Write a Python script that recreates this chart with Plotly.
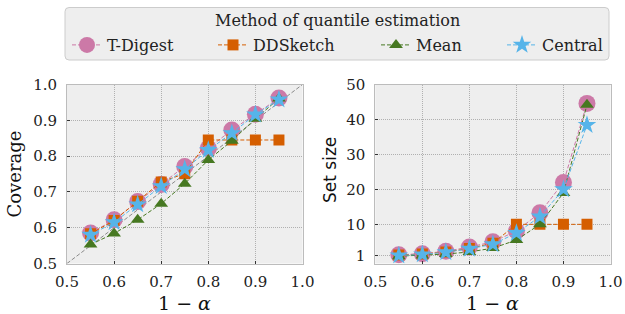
import plotly.graph_objects as go
from plotly.subplots import make_subplots

alpha_levels = [0.55, 0.60, 0.65, 0.70, 0.75, 0.80, 0.85, 0.90, 0.95]
methods = ["T-Digest", "DDSketch", "Mean", "Central"]

coverage = {
    "T-Digest": [0.585, 0.622, 0.673, 0.721, 0.771, 0.822, 0.873, 0.917, 0.962],
    "DDSketch": [0.583, 0.620, 0.674, 0.728, 0.751, 0.845, 0.845, 0.845, 0.845],
    "Mean":     [0.553, 0.584, 0.622, 0.667, 0.723, 0.789, 0.843, 0.904, 0.961],
    "Central":  [0.580, 0.615, 0.665, 0.716, 0.763, 0.817, 0.864, 0.916, 0.958],
}
set_size = {
    "T-Digest": [1.3, 1.6, 2.3, 3.5, 5.0, 8.1, 13.3, 22.0, 44.6],
    "DDSketch": [1.2, 1.5, 2.1, 3.1, 4.6, 10.0, 10.0, 10.0, 10.0],
    "Mean":     [0.9, 1.1, 1.5, 2.1, 3.2, 5.5, 10.0, 19.0, 44.2],
    "Central":  [1.1, 1.4, 2.0, 3.0, 4.3, 7.5, 12.2, 20.0, 38.4],
}
x_ticks = [0.5, 0.6, 0.7, 0.8, 0.9, 1.0]
cov_ticks = [0.5, 0.6, 0.7, 0.8, 0.9, 1.0]
size_ticks = [1, 10, 20, 30, 40, 50]

colors = {"T-Digest": "#CC79A7", "DDSketch": "#D55E00", "Mean": "#467821", "Central": "#56B4E9"}
symbols = {"T-Digest": "circle", "DDSketch": "square", "Mean": "triangle-up", "Central": "star"}
sizes = {"T-Digest": 17, "DDSketch": 11, "Mean": 12, "Central": 14}

SERIF = "DejaVu Serif, serif"
SANS = "DejaVu Sans, sans-serif"
TXT = "#222222"

W, H = 625, 314


def px(x):
    return x / W


def py(y):
    return 1 - y / H


fig = make_subplots(rows=1, cols=2)

fig.add_trace(go.Scatter(x=[0.5, 1.0], y=[0.5, 1.0], mode="lines",
                         line=dict(color="#8a8a8a", width=1, dash="4px,2px"),
                         showlegend=False, hoverinfo="skip"), row=1, col=1)

legend_names = ["legend", "legend2", "legend3", "legend4"]
for i, m in enumerate(methods):
    for col, data in ((1, coverage), (2, set_size)):
        fig.add_trace(go.Scatter(
            x=alpha_levels, y=data[m], mode="lines+markers", name=m,
            legendgroup=m, showlegend=(col == 1), legend=legend_names[i],
            line=dict(color=colors[m], width=1, dash="4px,2px"),
            marker=dict(symbol=symbols[m], size=sizes[m], color=colors[m],
                        line=dict(width=0)),
        ), row=1, col=col)

axis_common = dict(showline=True, linecolor="#bcbcbc", linewidth=1, mirror=True,
                   showgrid=True, gridcolor="#b0b0b0", griddash="1px,1px", gridwidth=1,
                   zeroline=False, ticks="inside", ticklen=3, tickcolor="#333333",
                   automargin=False,
                   tickfont=dict(family=SERIF, size=15, color=TXT))

fig.update_xaxes(range=[0.5, 1.0], tickvals=x_ticks, ticktext=[f"{v:.1f}" for v in x_ticks],
                 ticklabelstandoff=4, **axis_common)
fig.update_yaxes(range=[0.5, 1.0], tickvals=cov_ticks, ticktext=[f"{v:.1f}" for v in cov_ticks],
                 ticklabelstandoff=6, row=1, col=1, **axis_common)
fig.update_yaxes(range=[-1.2, 50], tickvals=size_ticks, ticktext=[str(v) for v in size_ticks],
                 ticklabelstandoff=6, row=1, col=2, **axis_common)

annotations = [
    dict(text="Coverage", x=13.5, y=174, angle=-90, font=dict(family=SERIF, size=18, color="#111111")),
    dict(text="Set size", x=330, y=170, angle=-90, font=dict(family=SANS, size=17, color="#111111")),
    dict(text="1 − <i>α</i>", x=184, y=303, angle=0, font=dict(family=SERIF, size=19, color="#111111")),
    dict(text="1 − <i>α</i>", x=493, y=303, angle=0, font=dict(family=SERIF, size=19, color="#111111")),
    dict(text="Method of quantile estimation", x=338, y=21, angle=0, font=dict(family=SERIF, size=16, color=TXT)),
]
for a in annotations:
    fig.add_annotation(text=a["text"], x=px(a["x"]), y=py(a["y"]),
                       xref="paper", yref="paper", xanchor="center", yanchor="middle",
                       showarrow=False, textangle=a["angle"], font=a["font"])

# rounded legend frame
x0, x1, y0, y1 = px(65), px(609), py(60), py(7.5)
rx, ry = 4 / W, 4 / H
path = (f"M{x0+rx},{y1} L{x1-rx},{y1} Q{x1},{y1} {x1},{y1-ry} L{x1},{y0+ry} "
        f"Q{x1},{y0} {x1-rx},{y0} L{x0+rx},{y0} Q{x0},{y0} {x0},{y0+ry} "
        f"L{x0},{y1-ry} Q{x0},{y1} {x0+rx},{y1} Z")
fig.add_shape(type="path", path=path, xref="paper", yref="paper",
              fillcolor="#eeeeee", line=dict(color="#cccccc", width=1), layer="above")

symbol_centers = [87, 233, 396, 522]
legend_layouts = {}
for name, cx in zip(legend_names, symbol_centers):
    legend_layouts[name] = dict(
        x=px(cx - 20), xanchor="left", y=py(45), yanchor="middle",
        orientation="h", bgcolor="rgba(0,0,0,0)", borderwidth=0,
        font=dict(family=SERIF, size=16, color=TXT), itemsizing="trace")

fig.update_layout(
    width=W, height=H,
    margin=dict(l=0, r=0, t=0, b=0, autoexpand=False),
    font=dict(family=SERIF, size=15, color=TXT),
    paper_bgcolor="white", plot_bgcolor="#eeeeee",
    xaxis=dict(domain=[px(67), px(302.5)]),
    xaxis2=dict(domain=[px(375.3), px(610.5)]),
    yaxis=dict(domain=[py(263.5), py(84.5)]),
    yaxis2=dict(domain=[py(263.5), py(84.5)]),
    showlegend=True,
    **legend_layouts,
)

fig.write_html("out.html", config={"displayModeBar": False},
               post_script="document.body.style.margin='0';document.body.style.overflow='hidden';")
